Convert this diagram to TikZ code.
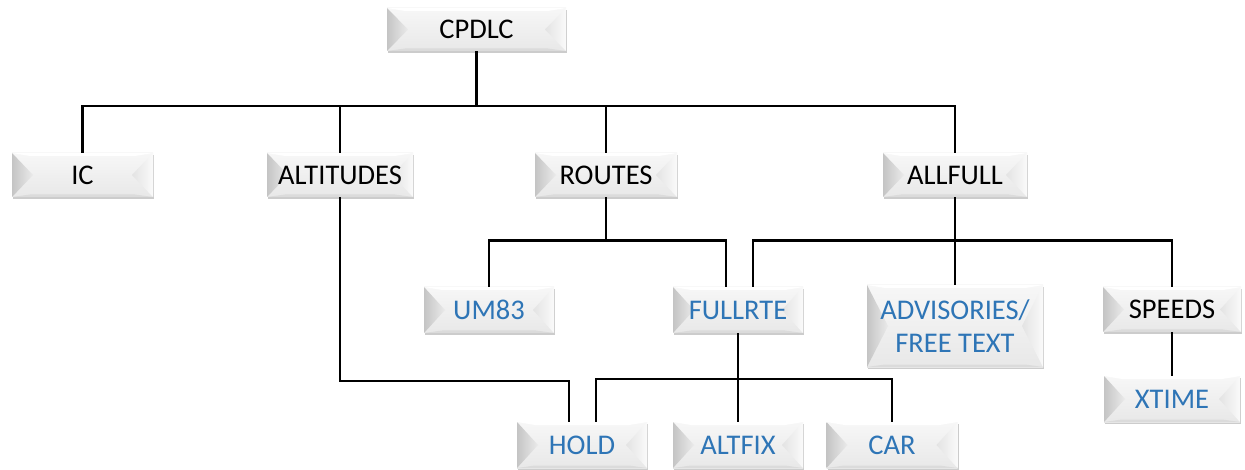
\documentclass[tikz,border=0pt]{standalone}
\usepackage{fontspec}
\setmainfont{Carlito}
\usetikzlibrary{calc,shadows}
\definecolor{txtblue}{RGB}{46,117,182}
\definecolor{facetop}{RGB}{247,247,247}
\definecolor{facebot}{RGB}{232,232,232}
\definecolor{bevdark}{RGB}{196,196,196}
\definecolor{bevlight}{RGB}{250,250,250}
\begin{document}
\begin{tikzpicture}[x=1pt,y=-1pt,
  bevel/.style={
    inner sep=0pt, align=center,
    font=\fontsize{28.5}{33}\selectfont,
    drop shadow={shadow xshift=1.2pt,shadow yshift=-1.8pt,fill=black,opacity=.2},
    path picture={
      \coordinate (bl) at (path picture bounding box.south west);
      \coordinate (tr) at (path picture bounding box.north east);
      \coordinate (tl) at (bl |- tr);
      \coordinate (br) at (tr |- bl);
      \shade[top color=facetop,bottom color=facebot] (bl) rectangle (tr);
      \fill[white] (tl) -- (tr) -- ($(tr)+(-18,3)$) -- ($(tl)+(18,3)$) -- cycle;
      \fill[black!14] (bl) -- (br) -- ($(br)+(-18,-2.5)$) -- ($(bl)+(18,-2.5)$) -- cycle;
      \shade[left color=bevdark,right color=black!8] (tl) -- ($(tl)!0.5!(bl)+(21,0)$) -- (bl) -- cycle;
      \shade[left color=black!11,right color=bevlight] (tr) -- ($(tr)!0.5!(br)+(-21,0)$) -- (br) -- cycle;
    }},
  link/.style={line width=2.1pt,black}
]
\useasboundingbox (0,0) rectangle (1245,470);

% top level
\node[bevel,minimum width=179pt,minimum height=43pt] (cpdlc) at (476.5,29.5) {CPDLC};

% second row
\node[bevel,minimum width=141pt,minimum height=44pt] (ic) at (82.5,175) {IC};
\node[bevel,minimum width=146pt,minimum height=44pt] (alt) at (340,175) {ALTITUDES};
\node[bevel,minimum width=142pt,minimum height=44pt] (routes) at (606,175) {ROUTES};
\node[bevel,minimum width=144pt,minimum height=44pt] (allfull) at (955,175) {ALLFULL};

% third row
\node[bevel,minimum width=130pt,minimum height=46pt,text=txtblue] (um83) at (489,310) {UM83};
\node[bevel,minimum width=130pt,minimum height=46pt,text=txtblue] (fullrte) at (738,310) {FULLRTE};
\node[bevel,minimum width=176pt,minimum height=82pt,text=txtblue] (adv) at (955,326) {ADVISORIES/\\FREE TEXT};
\node[bevel,minimum width=138pt,minimum height=45pt] (speeds) at (1172,309.5) {SPEEDS};
\node[bevel,minimum width=136pt,minimum height=46pt,text=txtblue] (xtime) at (1172,399) {XTIME};

% bottom row
\node[bevel,minimum width=130pt,minimum height=46pt,text=txtblue] (hold) at (582,445) {HOLD};
\node[bevel,minimum width=130pt,minimum height=46pt,text=txtblue] (altfix) at (738,445) {ALTFIX};
\node[bevel,minimum width=131pt,minimum height=46pt,text=txtblue] (car) at (892,445) {CAR};

% bus levels
\coordinate (busA) at (0,106);
\coordinate (busB) at (0,240.5);
\coordinate (busC) at (0,379);
\coordinate (busD) at (0,381);
\coordinate (fullA) at ($(fullrte.north)+(-12,0)$);
\coordinate (fullB) at ($(fullrte.north)+(15,0)$);
\coordinate (holdA) at ($(hold.north)+(-13,0)$);
\coordinate (holdB) at ($(hold.north)+(14,0)$);

% connectors
\draw[link] (cpdlc.south) -- (cpdlc.south |- busA);
\draw[link] (ic.north) |- (allfull.north |- busA) -- (allfull.north);
\draw[link] (alt.north) -- (alt.north |- busA);
\draw[link] (routes.north) -- (routes.north |- busA);

\draw[link] (routes.south) -- (routes.south |- busB);
\draw[link] (um83.north) |- (fullA |- busB) -- (fullA);

\draw[link] (allfull.south) -- (adv.north);
\draw[link] (fullB) |- (speeds.north |- busB) -- (speeds.north);

\draw[link] (speeds.south) -- (xtime.north);

\draw[link] (alt.south) |- (holdA |- busD) -- (holdA);
\draw[link] (fullrte.south) -- (altfix.north);
\draw[link] (holdB) |- (car.north |- busC) -- (car.north);
\end{tikzpicture}
\end{document}
